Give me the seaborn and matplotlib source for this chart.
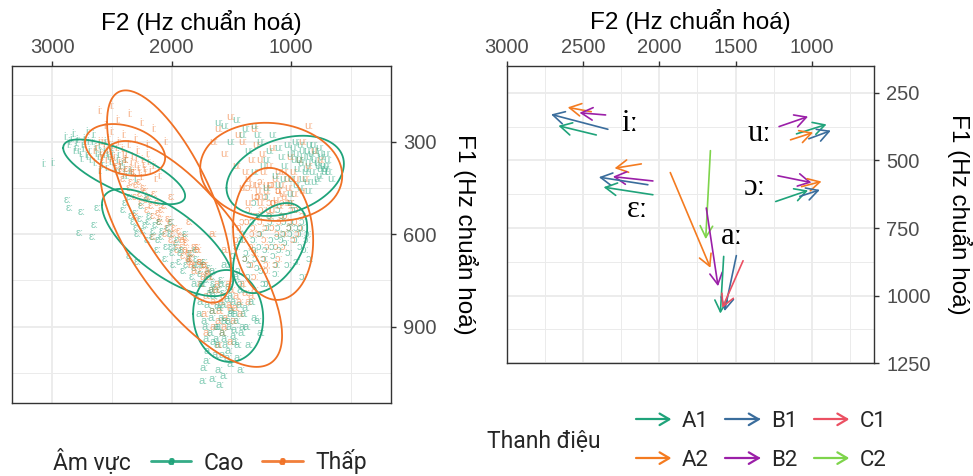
import numpy as np
import pandas as pd
import matplotlib
matplotlib.use("Agg")
import matplotlib.pyplot as plt
from matplotlib.lines import Line2D
from matplotlib.legend_handler import HandlerBase
from matplotlib.ticker import FixedLocator
import seaborn as sns

# ---------------- data ----------------
VOWELS = ["iː", "ɛː", "aː", "ɔː", "uː"]
REGISTERS = ["Cao", "Thấp"]
REG_COLORS = {"Cao": "#1FA37A", "Thấp": "#F07125"}

TONES = ["A1", "A2", "B1", "B2", "C1", "C2"]
TONE_COLORS = {"A1": "#1FA37A", "A2": "#F47B20", "B1": "#3A6D9C",
               "B2": "#9B1FA8", "C1": "#EB5062", "C2": "#7ED44B"}

# individual tokens (normalised Hz), per vowel and register
I_CAO_F2 = [2880, 2850, 2820, 2800, 2780, 2760, 2740, 2720, 2700, 2680, 2660, 2640,
            2620, 2600, 2580, 2560, 2540, 2520, 2500, 2480, 2460, 2440, 2420, 2400,
            2380, 2350, 2300, 2700, 2650, 2600, 2550, 2750, 3070, 2990,
            2860, 2830, 2790, 2770, 2730, 2710, 2690, 2670, 2630, 2610, 2590, 2570,
            2530, 2510, 2490, 2470, 2450, 2430, 2410, 2390, 2370, 2330, 2810, 2720, 2560]
I_CAO_F1 = [285, 300, 275, 320, 295, 340, 310, 290, 350, 330, 300, 370,
            340, 315, 360, 330, 385, 350, 320, 370, 400, 345, 380, 410,
            360, 395, 420, 270, 280, 395, 300, 355, 372, 368,
            310, 290, 305, 330, 325, 345, 300, 360, 320, 350, 335, 375,
            340, 365, 345, 385, 360, 395, 370, 390, 410, 400, 330, 300, 345]
I_THAP_F2 = [2640, 2600, 2580, 2560, 2540, 2520, 2500, 2480, 2460, 2440, 2420, 2400,
             2380, 2360, 2340, 2320, 2300, 2280, 2260, 2240, 2220, 2200, 2150, 2100,
             2600, 2500, 2450, 2350, 2250, 2550, 2150, 2050,
             2620, 2590, 2570, 2530, 2510, 2490, 2470, 2430, 2410, 2390, 2370, 2330,
             2310, 2290, 2270, 2250, 2230, 2210, 2190, 2170, 2130, 2400, 2300, 2200, 2500]
I_THAP_F1 = [330, 300, 350, 310, 360, 290, 340, 370, 320, 300, 380, 340,
             360, 310, 390, 350, 375, 330, 400, 360, 390, 340, 380, 410,
             200, 185, 230, 210, 240, 250, 260, 300,
             320, 340, 300, 330, 355, 315, 350, 365, 325, 395, 345, 370,
             400, 355, 385, 415, 375, 400, 365, 395, 420, 280, 290, 310, 270]
E_CAO_F2 = [2400, 2350, 2320, 2300, 2280, 2250, 2220, 2200, 2180, 2150, 2120, 2100,
            2080, 2050, 2020, 2000, 1980, 1950, 1920, 1900, 1880, 1850, 1820, 1800,
            1780, 1750, 1720, 1700, 1650, 1600, 2870, 2850, 2750, 2620, 2640, 2770,
            2660, 2350, 2280,
            2380, 2330, 2290, 2260, 2230, 2190, 2160, 2130, 2110, 2070, 2040, 2010,
            1990, 1960, 1930, 1910, 1870, 1840, 1810, 1790, 1760, 1740, 1710, 1680,
            1660, 1630, 1580, 1560, 2200, 2000]
E_CAO_F1 = [520, 480, 560, 530, 600, 510, 570, 620, 540, 590, 650, 560,
            610, 680, 580, 640, 700, 620, 660, 720, 600, 680, 740, 650,
            700, 760, 690, 730, 760, 780, 490, 515, 528, 515, 570, 595,
            610, 670, 690,
            500, 540, 580, 550, 590, 560, 610, 570, 620, 590, 640, 600,
            660, 640, 690, 650, 700, 660, 710, 680, 730, 700, 750, 710,
            740, 770, 750, 790, 480, 560]
E_THAP_F2 = [2450, 2400, 2380, 2350, 2320, 2300, 2270, 2250, 2220, 2200, 2180, 2150,
             2120, 2100, 2080, 2050, 2020, 2000, 1970, 1950, 1920, 1900, 1870, 1850,
             1820, 1800, 1780, 1750, 2300, 2150, 2000, 1850,
             2420, 2370, 2330, 2290, 2260, 2230, 2210, 2170, 2140, 2110, 2090, 2060,
             2030, 2010, 1980, 1960, 1930, 1910, 1880, 1860, 1830, 1810, 1760, 1720, 1690]
E_THAP_F1 = [380, 420, 360, 450, 400, 480, 430, 500, 460, 520, 480, 540,
             500, 560, 520, 600, 550, 620, 580, 650, 610, 670, 630, 690,
             660, 700, 640, 720, 540, 610, 480, 560,
             400, 390, 430, 440, 470, 450, 490, 510, 470, 530, 550, 510,
             580, 560, 600, 630, 590, 640, 610, 660, 680, 640, 690, 700, 730]
A_CAO_F2 = [1800, 1750, 1720, 1700, 1680, 1650, 1630, 1600, 1580, 1560, 1540, 1520,
            1500, 1480, 1460, 1440, 1420, 1400, 1380, 1350, 1300, 1250, 1700, 1650,
            1600, 1550, 1500, 1450, 1620, 1580, 1520, 1480, 1730, 1650, 1590, 1740,
            1560, 1420,
            1790, 1760, 1740, 1710, 1690, 1670, 1660, 1640, 1620, 1610, 1590, 1570,
            1550, 1530, 1510, 1490, 1470, 1450, 1430, 1410, 1390, 1370, 1330, 1280,
            1690, 1640, 1570, 1530, 1470, 1610, 1550, 1500, 1440, 1660, 1520]
A_CAO_F1 = [760, 820, 880, 940, 790, 850, 990, 900, 760, 830, 960, 880,
            800, 930, 860, 1000, 780, 900, 840, 960, 870, 920, 1010, 720,
            1040, 700, 1020, 740, 940, 870, 980, 820, 1035, 1070, 1090, 1075,
            1060, 1040,
            800, 860, 760, 900, 830, 920, 870, 800, 900, 960, 840, 920,
            880, 810, 900, 850, 950, 880, 830, 920, 860, 900, 820, 880,
            980, 950, 990, 1000, 910, 830, 940, 860, 960, 780, 770]
A_THAP_F2 = [1900, 1850, 1800, 1780, 1750, 1720, 1700, 1680, 1650, 1620, 1600, 1580,
             1550, 1520, 1500, 1480, 1450, 1420, 1400, 1350, 1300, 1700, 1600, 1500,
             1650, 1550,
             1880, 1830, 1760, 1730, 1690, 1660, 1640, 1610, 1590, 1560, 1540, 1510,
             1490, 1460, 1430, 1380, 1330, 1720, 1640, 1570]
A_THAP_F1 = [620, 680, 720, 650, 760, 700, 800, 740, 850, 780, 880, 820,
             900, 760, 840, 880, 800, 860, 760, 820, 780, 920, 960, 950,
             600, 650,
             650, 700, 690, 740, 720, 780, 820, 760, 850, 800, 870, 830,
             780, 840, 820, 790, 800, 860, 900, 920]
O_CAO_F2 = [1500, 1450, 1420, 1400, 1380, 1350, 1320, 1300, 1280, 1250, 1220, 1200,
            1180, 1150, 1120, 1100, 1080, 1050, 1020, 1000, 980, 950, 920, 900,
            870, 840, 1300, 1200, 1100, 1000, 950, 900,
            1480, 1440, 1410, 1370, 1340, 1310, 1290, 1260, 1240, 1210, 1190, 1160,
            1140, 1110, 1090, 1060, 1040, 1010, 990, 960, 930, 910, 880, 860,
            1270, 1170, 1070, 1230, 1130, 1030]
O_CAO_F1 = [700, 640, 760, 600, 680, 740, 560, 650, 710, 600, 680, 760,
            540, 640, 700, 580, 620, 560, 660, 600, 520, 580, 640, 560,
            620, 680, 500, 480, 520, 500, 690, 740,
            670, 720, 620, 660, 700, 620, 680, 640, 720, 650, 580, 620,
            670, 610, 650, 600, 630, 580, 560, 620, 600, 580, 650, 600,
            540, 560, 540, 760, 730, 700]
O_THAP_F2 = [1450, 1400, 1380, 1350, 1320, 1300, 1280, 1250, 1220, 1200, 1180, 1150,
             1120, 1100, 1080, 1050, 1020, 1000, 980, 950, 920, 900, 1300, 1200,
             1100, 1350, 1250, 1150,
             1430, 1390, 1360, 1330, 1310, 1290, 1260, 1240, 1210, 1190, 1170, 1140,
             1110, 1090, 1070, 1040, 1010, 990, 960, 940, 1330, 1230, 1130, 1060, 1270]
O_THAP_F1 = [620, 560, 680, 520, 600, 660, 480, 560, 620, 700, 500, 580,
             640, 460, 540, 600, 500, 560, 620, 520, 580, 540, 740, 720,
             680, 450, 430, 440,
             580, 620, 560, 640, 580, 540, 600, 520, 580, 640, 540, 500,
             600, 560, 500, 540, 580, 520, 560, 600, 700, 680, 700, 640, 480]
U_CAO_F2 = [1600, 1550, 1500, 1450, 1400, 1350, 1300, 1250, 1200, 1150, 1100, 1050,
            1000, 960, 930, 900, 870, 840, 810, 780, 750, 720, 690, 660,
            950, 900, 850, 800, 750, 700, 1100, 1000, 1300, 1200,
            980, 970, 950, 940, 920, 910, 890, 880, 860, 850, 830, 820,
            800, 790, 770, 760, 740, 730, 710, 700, 680, 1080, 1030, 1130,
            1180, 1230, 1280, 1380, 990, 860, 780, 920, 840, 760, 1060]
U_CAO_F1 = [240, 250, 300, 230, 280, 330, 250, 300, 360, 280, 320, 380,
            340, 300, 360, 330, 390, 350, 310, 370, 340, 400, 360, 420,
            440, 420, 460, 430, 390, 380, 440, 470, 400, 450,
            320, 360, 340, 390, 310, 370, 350, 400, 330, 370, 340, 400,
            360, 330, 380, 410, 350, 380, 390, 340, 400, 350, 310, 410,
            330, 380, 280, 260, 420, 430, 420, 450, 310, 320, 420]
U_THAP_F2 = [1650, 1600, 1550, 1500, 1450, 1400, 1350, 1300, 1250, 1200, 1150, 1100,
             1050, 1000, 950, 900, 850, 800, 750, 1300, 1250, 1200, 1150, 1100,
             1050, 1000, 1400, 1350, 900, 850,
             1380, 1330, 1280, 1230, 1180, 1130, 1080, 1030, 980, 930, 880, 1320,
             1270, 1220, 1170, 1120, 1070, 1020, 970, 1190, 1140, 1090, 1240, 1290, 1440]
U_THAP_F1 = [300, 260, 340, 220, 380, 300, 420, 260, 360, 460, 320, 400,
             480, 350, 420, 300, 380, 330, 360, 480, 500, 440, 520, 460,
             400, 500, 450, 500, 460, 250,
             400, 360, 440, 400, 380, 420, 440, 420, 400, 360, 420, 440,
             460, 480, 440, 490, 470, 450, 470, 520, 500, 510, 340, 310, 280]

# confidence ellipses: centre, spread and correlation per vowel x register
ELL_REGISTER = ["Cao"] * 5 + ["Thấp"] * 5
ELL_VOWEL = VOWELS * 2
ELL_F2 = [2397, 2034, 1527, 1176, 1050, 2389, 2021, 1837, 1151, 1167]
ELL_F1 = [398, 627, 865, 645, 411, 327, 478, 664, 599, 398]
ELL_SD_F2 = [510, 549, 293, 310, 491, 335, 519, 761, 335, 594]
ELL_SD_F1 = [105, 174, 149, 146, 130, 84, 344, 366, 214, 159]
ELL_RHO = [-0.74, -0.70, -0.05, 0.45, 0.30, -0.30, -0.70, -0.72, -0.10, -0.08]

# formant trajectories (onset -> offset) per vowel and tone
ARR_VOWEL = ["iː"] * 4 + ["uː"] * 4 + ["ɔː"] * 4 + ["ɛː"] * 4 + ["aː"] * 6
ARR_TONE = ["A2", "B2", "B1", "A1",
            "B2", "A1", "A2", "B1",
            "B2", "A2", "A1", "B1",
            "A2", "B2", "B1", "A1",
            "A2", "C2", "B2", "A1", "B1", "C1"]
ARR_F2_START = [2446, 2352, 2337, 2413, 1215, 1101, 1140, 1020, 1222, 1068, 1237, 1079,
                2118, 2042, 2075, 2042, 1928, 1665, 1692, 1578, 1495, 1451]
ARR_F1_START = [320, 332, 385, 406, 375, 402, 424, 420, 557, 597, 652, 633,
                513, 576, 590, 627, 545, 464, 676, 855, 852, 871]
ARR_F2_END = [2600, 2523, 2709, 2661, 1025, 904, 992, 876, 1003, 937, 1025, 948,
              2293, 2304, 2396, 2365, 1665, 1696, 1615, 1600, 1572, 1587]
ARR_F1_END = [304, 324, 330, 372, 338, 367, 397, 390, 582, 578, 611, 609,
              529, 560, 562, 599, 897, 791, 965, 1066, 1057, 1045]

LABEL_VOWEL = ["iː", "uː", "ɔː", "ɛː", "aː"]
LABEL_F2 = [2195, 1343, 1376, 2140, 1521]
LABEL_F1 = [362, 400, 602, 682, 783]

# ---------------- tables ----------------
token_groups = [
    ("iː", "Cao", I_CAO_F2, I_CAO_F1), ("iː", "Thấp", I_THAP_F2, I_THAP_F1),
    ("ɛː", "Thấp", E_THAP_F2, E_THAP_F1), ("ɛː", "Cao", E_CAO_F2, E_CAO_F1),
    ("aː", "Thấp", A_THAP_F2, A_THAP_F1), ("aː", "Cao", A_CAO_F2, A_CAO_F1),
    ("ɔː", "Thấp", O_THAP_F2, O_THAP_F1), ("ɔː", "Cao", O_CAO_F2, O_CAO_F1),
    ("uː", "Thấp", U_THAP_F2, U_THAP_F1), ("uː", "Cao", U_CAO_F2, U_CAO_F1),
]
tokens = pd.concat(
    [pd.DataFrame({"vowel": v, "register": r, "F2": f2, "F1": f1})
     for v, r, f2, f1 in token_groups], ignore_index=True)

t = np.linspace(0, 2 * np.pi, 181)
ell_rows = []
for i in range(len(ELL_F2)):
    rho = ELL_RHO[i]
    f2 = ELL_F2[i] + ELL_SD_F2[i] * np.cos(t)
    f1 = ELL_F1[i] + ELL_SD_F1[i] * (rho * np.cos(t) + np.sqrt(1 - rho ** 2) * np.sin(t))
    ell_rows.append(pd.DataFrame({"F2": f2, "F1": f1, "register": ELL_REGISTER[i],
                                  "group": f"{ELL_VOWEL[i]}-{ELL_REGISTER[i]}"}))
ellipses = pd.concat(ell_rows, ignore_index=True)

arrows = pd.DataFrame({"vowel": ARR_VOWEL, "tone": ARR_TONE,
                       "F2_start": ARR_F2_START, "F1_start": ARR_F1_START,
                       "F2_end": ARR_F2_END, "F1_end": ARR_F1_END})

# ---------------- style ----------------
sns.set_theme(style="white")
SANS = ["Liberation Sans", "DejaVu Sans"]
plt.rcParams["font.family"] = SANS
LEG_FONT = ["Roboto", "DejaVu Sans"]
GRID = "#EBEBEB"
DARK = "#333333"
TICKTXT = "#4D4D4D"

fig = plt.figure(figsize=(9.73, 4.76), dpi=100)
ax1 = fig.add_axes([12 / 973, 1 - 403 / 476, 379 / 973, 337 / 476])
ax2 = fig.add_axes([506.7 / 973, 1 - 363.3 / 476, 367.6 / 973, 297.6 / 476])


def style_axes(ax, xmaj, xmin, ymaj, ymin):
    ax.xaxis.set_major_locator(FixedLocator(xmaj))
    ax.xaxis.set_minor_locator(FixedLocator(xmin))
    ax.yaxis.set_major_locator(FixedLocator(ymaj))
    ax.yaxis.set_minor_locator(FixedLocator(ymin))
    ax.grid(which="major", color=GRID, lw=1.3, zorder=0)
    ax.grid(which="minor", color=GRID, lw=0.7, zorder=0)
    ax.set_axisbelow(True)
    ax.xaxis.tick_top()
    ax.xaxis.set_label_position("top")
    ax.yaxis.tick_right()
    ax.yaxis.set_label_position("right")
    ax.tick_params(which="major", length=3.5, width=1.0, color=DARK,
                   labelsize=14.5, labelcolor=TICKTXT)
    ax.tick_params(axis="x", which="major", pad=3)
    ax.tick_params(axis="y", which="major", pad=5)
    ax.tick_params(which="minor", length=0)
    for s in ax.spines.values():
        s.set_color(DARK)
        s.set_linewidth(1.0)
    ax.set_xlabel("F2 (Hz chuẩn hoá)", fontsize=17.5, labelpad=6, color="black")
    ax.set_ylabel("F1 (Hz chuẩn hoá)", fontsize=17.5, rotation=-90, va="bottom",
                  labelpad=12, color="black")


# ---------- left panel: tokens and ellipses ----------
for _, row in tokens.iterrows():
    ax1.text(row["F2"], row["F1"], row["vowel"], color=REG_COLORS[row["register"]],
             alpha=0.55, fontsize=8, ha="center", va="center", family=SANS, zorder=2)

sns.lineplot(data=ellipses, x="F2", y="F1", hue="register", units="group",
             estimator=None, sort=False, palette=REG_COLORS, lw=1.3,
             legend=False, ax=ax1, zorder=3)

ax1.set_xlim(3335, 165)
ax1.set_ylim(1147, 55)
style_axes(ax1, [1000, 2000, 3000], [500, 1500, 2500],
           [300, 600, 900], [150, 450, 750, 1050])

# ---------- right panel: tone trajectories ----------
ax2.set_xlim(3000, 591)
ax2.set_ylim(1250, 150)
for _, row in arrows.iterrows():
    ax2.annotate("", xy=(row["F2_end"], row["F1_end"]),
                 xytext=(row["F2_start"], row["F1_start"]),
                 arrowprops=dict(arrowstyle="->,head_length=0.55,head_width=0.3",
                                 color=TONE_COLORS[row["tone"]], lw=1.2,
                                 shrinkA=0, shrinkB=0, mutation_scale=15),
                 zorder=3)
for v, f2, f1 in zip(LABEL_VOWEL, LABEL_F2, LABEL_F1):
    ax2.text(f2, f1, v, fontsize=22, ha="center", va="center",
             family=["Liberation Serif", "DejaVu Serif"], color="black", zorder=4)

style_axes(ax2, [1000, 1500, 2000, 2500, 3000], [750, 1250, 1750, 2250, 2750],
           [250, 500, 750, 1000, 1250], [375, 625, 875, 1125])


# ---------- legends ----------
class ArrowKey(HandlerBase):
    def create_artists(self, legend, orig_handle, xdescent, ydescent,
                       width, height, fontsize, trans):
        y = height / 2 - ydescent
        x0, x1 = -xdescent, width - xdescent
        col = orig_handle.get_color()
        hl, hw = 0.44 * fontsize, 0.26 * fontsize
        shaft = Line2D([x0, x1], [y, y], color=col, lw=1.6, transform=trans)
        head = Line2D([x1 - hl, x1, x1 - hl], [y + hw, y, y - hw], color=col,
                      lw=1.6, transform=trans)
        return [shaft, head]


reg_handles = [Line2D([], [], color=REG_COLORS[r], lw=2.0, marker="$a$",
                      markersize=4, alpha=0.9) for r in REGISTERS]
fig.text(53 / 973, 1 - 462 / 476, "Âm vực", fontsize=16.5, family=LEG_FONT,
         ha="left", va="center")
fig.legend(reg_handles, REGISTERS, loc="center left",
           bbox_to_anchor=(151 / 973, 1 - 462 / 476), ncol=2, frameon=False,
           prop={"family": LEG_FONT, "size": 16.5}, handlelength=1.75,
           handletextpad=0.55, columnspacing=0.8, borderpad=0, borderaxespad=0)

tone_handles = [Line2D([], [], color=TONE_COLORS[tn]) for tn in TONES]
fig.text(487 / 973, 1 - 441 / 476, "Thanh điệu", fontsize=16.5, family=LEG_FONT,
         ha="left", va="center")
fig.legend(tone_handles, TONES, loc="center left",
           bbox_to_anchor=(636 / 973, 1 - 441 / 476), ncol=3, frameon=False,
           prop={"family": LEG_FONT, "size": 16}, handlelength=1.5,
           handletextpad=0.55, columnspacing=0.75, labelspacing=0.8,
           borderpad=0, borderaxespad=0,
           handler_map={Line2D: ArrowKey()})

fig.savefig("out.png", dpi=100)
